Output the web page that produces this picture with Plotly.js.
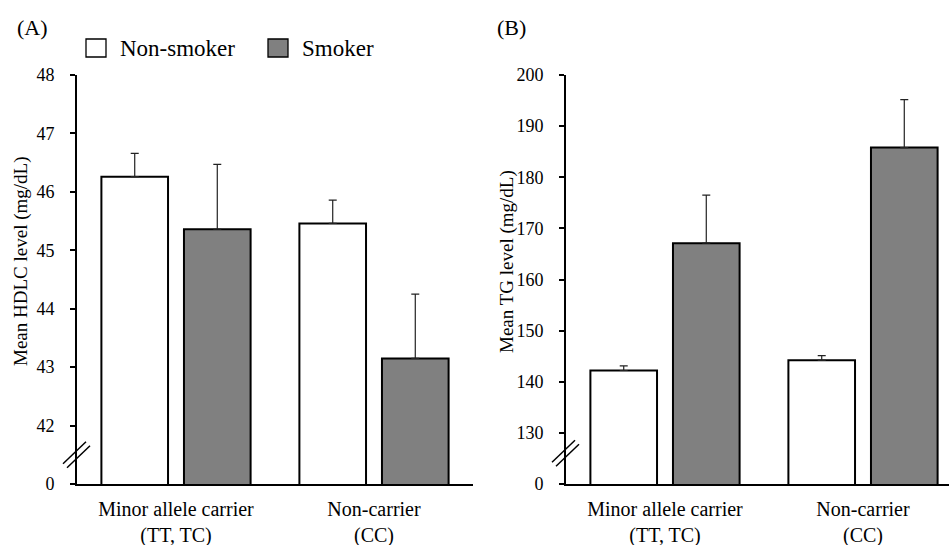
<!DOCTYPE html>
<html>
<head>
<meta charset="utf-8">
<script src="https://cdn.plot.ly/plotly-3.0.1.min.js"></script>
<style>html,body{margin:0;padding:0;background:#fff}#chart{width:949px;height:545px}</style>
</head>
<body>
<div id="chart"></div>
<script>
// ---- data ----
var categories = ['Minor allele carrier<br>(TT, TC)', 'Non-carrier<br>(CC)'];
var seriesNames = ['Non-smoker', 'Smoker'];
// Panel A: Mean HDLC level (mg/dL)
var hdlcNonSmoker = [46.26, 45.46];
var hdlcNonSmokerErr = [0.40, 0.40];
var hdlcSmoker = [45.36, 43.15];
var hdlcSmokerErr = [1.11, 1.10];
// Panel B: Mean TG level (mg/dL)
var tgNonSmoker = [142.2, 144.2];
var tgNonSmokerErr = [0.9, 0.9];
var tgSmoker = [167.1, 185.8];
var tgSmokerErr = [9.4, 9.4];
// tick labels (broken axes: lowest tick shown as 0)
var hdlcTickVals = [41, 42, 43, 44, 45, 46, 47, 48];
var hdlcTickText = ['0', '42', '43', '44', '45', '46', '47', '48'];
var tgTickVals = [120, 130, 140, 150, 160, 170, 180, 190, 200];
var tgTickText = ['0', '130', '140', '150', '160', '170', '180', '190', '200'];
var panelLabels = ['(A)', '(B)'];
var yTitles = ['Mean HDLC level (mg/dL)', 'Mean TG level (mg/dL)'];

// ---- styles ----
var FONT = 'Liberation Serif, Times New Roman, serif';
var W = 949, H = 545;
var fills = ['#ffffff', '#808080'];

function zeros(a){ return a.map(function(){ return 0; }); }
function barTrace(y, err, idx, xa, ya){
  return {
    type: 'bar', x: categories, y: y, name: seriesNames[idx],
    xaxis: xa, yaxis: ya, showlegend: false,
    marker: {color: fills[idx], line: {color: '#000', width: 2}},
    error_y: {type: 'data', symmetric: false, array: err, arrayminus: zeros(err),
              color: '#222', thickness: 1.2, width: 4},
    hoverinfo: 'y'
  };
}

var traces = [
  barTrace(hdlcNonSmoker, hdlcNonSmokerErr, 0, 'x', 'y'),
  barTrace(hdlcSmoker, hdlcSmokerErr, 1, 'x', 'y'),
  barTrace(tgNonSmoker, tgNonSmokerErr, 0, 'x2', 'y2'),
  barTrace(tgSmoker, tgSmokerErr, 1, 'x2', 'y2')
];

var yDom = [61 / H, 470 / H];
function xAxis(domain, range, anchor){
  return {domain: domain, range: range, anchor: anchor, type: 'category',
    showline: true, linecolor: '#000', linewidth: 2, ticks: '', showgrid: false,
    ticklabelstandoff: 6,
    zeroline: false, tickfont: {family: FONT, size: 20, color: '#000'}, fixedrange: true};
}
function yAxis(range, tv, tt, anchor){
  return {domain: yDom, range: range, anchor: anchor, tickvals: tv, ticktext: tt,
    showline: true, linecolor: '#000', linewidth: 2, ticks: 'outside', ticklen: 5,
    tickwidth: 2, tickcolor: '#000', showgrid: false, zeroline: false,
    ticklabelstandoff: 12,
    tickfont: {family: FONT, size: 18, color: '#000'}, fixedrange: true};
}

// axis-break marks (decoration), placed relative to the y-axis line in domain units
function breakMark(xa, ya, yfrac, dx){
  return {type: 'line', xref: xa + ' domain', yref: ya + ' domain',
    xsizemode: 'pixel', ysizemode: 'pixel', xanchor: 0, yanchor: yfrac,
    x0: -12 + dx, x1: 11 + dx, y0: -11 - dx, y1: 11 - dx,
    line: {color: '#000', width: 1.5}};
}

var shapes = [
  breakMark('x', 'y', 0.5 / 7, -2), breakMark('x', 'y', 0.5 / 7, 2),
  breakMark('x2', 'y2', 6 / 80, -2), breakMark('x2', 'y2', 6 / 80, 2),
  // legend swatches
  {type: 'rect', xref: 'paper', yref: 'paper', x0: 86 / W, x1: 106 / W, y0: 1 - 57 / H, y1: 1 - 39 / H,
   fillcolor: fills[0], line: {color: '#000', width: 1.3}},
  {type: 'rect', xref: 'paper', yref: 'paper', x0: 268 / W, x1: 288 / W, y0: 1 - 57 / H, y1: 1 - 39 / H,
   fillcolor: fills[1], line: {color: '#000', width: 1.3}}
];

function ann(text, x, y, size, opts){
  var a = {text: text, xref: 'paper', yref: 'paper', x: x / W, y: 1 - y / H, showarrow: false,
    xanchor: 'left', yanchor: 'middle', font: {family: FONT, size: size, color: '#000'}};
  for (var k in opts) a[k] = opts[k];
  return a;
}

var annotations = [
  ann(panelLabels[0], 15, 27, 22),
  ann(panelLabels[1], 495, 27, 22),
  ann(seriesNames[0], 118, 48, 23),
  ann(seriesNames[1], 300, 48, 23),
  ann(yTitles[0], 21, 262, 19, {textangle: -90, xanchor: 'center'}),
  ann(yTitles[1], 507, 262, 19, {textangle: -90, xanchor: 'center'})
];

var layout = {
  width: W, height: H,
  margin: {l: 0, r: 0, t: 0, b: 0},
  paper_bgcolor: '#fff', plot_bgcolor: '#fff',
  barmode: 'group', bargap: 0.166, bargroupgap: 0.193,
  xaxis: xAxis([77 / W, 473 / W], [-0.5, 1.5], 'y'),
  yaxis: yAxis([41, 48], hdlcTickVals, hdlcTickText, 'x'),
  xaxis2: xAxis([566 / W, 1], [-0.5, -0.5 + (W - 566) / 198], 'y2'),
  yaxis2: yAxis([120, 200], tgTickVals, tgTickText, 'x2'),
  shapes: shapes,
  annotations: annotations,
  showlegend: false,
  font: {family: FONT, color: '#000'}
};

Plotly.newPlot('chart', traces, layout, {displayModeBar: false, staticPlot: true});
</script>
</body>
</html>
